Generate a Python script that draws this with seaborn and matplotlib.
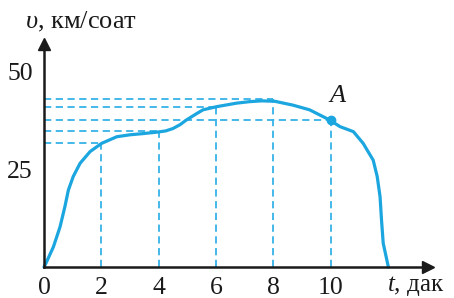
import matplotlib
matplotlib.use("Agg")
import matplotlib.pyplot as plt
import seaborn as sns
import pandas as pd

# speed curve v(t)
t_curve = [0, 0.07, 0.33, 0.56, 0.73, 0.85, 1.02, 1.26, 1.61, 2.01, 2.54, 3.0, 3.45,
           3.97, 4.25, 4.5, 4.75, 4.97, 5.3, 5.55, 6.02, 6.71, 7.18, 7.6, 8.05, 8.69,
           9.27, 9.97, 10.33, 10.8, 11.14, 11.49, 11.63, 11.73, 11.78, 11.84, 11.99,
           12.02]
v_curve = [0, 1.0, 5.2, 10.3, 15.5, 19.7, 23.2, 26.6, 29.6, 31.7, 33.4, 33.9, 34.2,
           34.6, 34.9, 35.5, 36.5, 37.7, 39.2, 40.3, 41.1, 42.0, 42.4, 42.6, 42.5,
           41.5, 40.3, 37.7, 36.0, 34.7, 31.7, 27.4, 23.2, 18.0, 12.1, 6.1, 1.0, 0]

# dashed guide points
t_marks = [2, 4, 6, 8, 10]
v_marks = [31.8, 34.8, 41.0, 43.0, 37.6]

x_ticks = [0, 2, 4, 6, 8, 10]
y_ticks = [25, 50]
point_a = (10, 37.6)

BLUE = "#1ba6e0"
DASH = "#35b2e6"
INK = "#1a1a1a"

sns.set_style("white")
plt.rcParams["font.family"] = ["Liberation Serif", "DejaVu Serif"]
plt.rcParams["mathtext.fontset"] = "custom"
plt.rcParams["mathtext.it"] = "Liberation Serif:italic"
plt.rcParams["mathtext.rm"] = "Liberation Serif"

fig = plt.figure(figsize=(4.54, 2.98), dpi=100)
ax = fig.add_axes([0, 0, 1, 1])
ax.set_xlim(-44 / 28.65, (454 - 44) / 28.65)
ax.set_ylim(-31 / 3.9, 267 / 3.9)

# dashed guides
ax.vlines(t_marks, 0, v_marks, colors=DASH, linestyles=(0, (4, 2.5)), linewidth=1.3)
ax.hlines(v_marks, 0, t_marks, colors=DASH, linestyles=(0, (4, 2.5)), linewidth=1.3)

df = pd.DataFrame({"t": t_curve, "v": v_curve})
sns.lineplot(data=df, x="t", y="v", ax=ax, color=BLUE, linewidth=2.3,
             sort=False, estimator=None)
ax.plot(*point_a, "o", color=BLUE, ms=6)
ax.text(10.25, 43.8, "A", fontsize=19, style="italic", ha="center", va="center",
        color=INK)

# axes with arrows
for s in ["top", "right"]:
    ax.spines[s].set_visible(False)
ax.spines["left"].set_position(("data", 0))
ax.spines["bottom"].set_position(("data", 0))
ax.spines["left"].set_bounds(0, 56)
ax.spines["bottom"].set_bounds(0, 13.3)
for s in ["left", "bottom"]:
    ax.spines[s].set_color(INK)
    ax.spines[s].set_linewidth(1.8)
ax.plot(13.4, 0, ">", color=INK, ms=9, clip_on=False)
ax.plot(0, 57.3, "^", color=INK, ms=9, clip_on=False)

ax.set_xticks(x_ticks)
ax.set_xticklabels([str(x) for x in x_ticks])
ax.set_yticks(y_ticks)
ax.set_yticklabels([str(y) for y in y_ticks])
ax.tick_params(axis="x", length=0, pad=7, labelsize=18.5, colors=INK)
ax.tick_params(axis="y", direction="in", length=4, width=1.5, pad=8,
               labelsize=18.5, colors=INK)
ax.grid(False)

ax.set_ylabel(r"$υ$, км/соат", fontsize=19, rotation=0, ha="left",
              va="baseline", color=INK)
ax.yaxis.set_label_coords(25 / 454, 1 - 28 / 298)
ax.set_xlabel(r"$t$, дак", fontsize=18, ha="left", va="baseline", color=INK)
ax.xaxis.set_label_coords(387 / 454, 1 - 291 / 298)

fig.savefig("out.png", dpi=100)
